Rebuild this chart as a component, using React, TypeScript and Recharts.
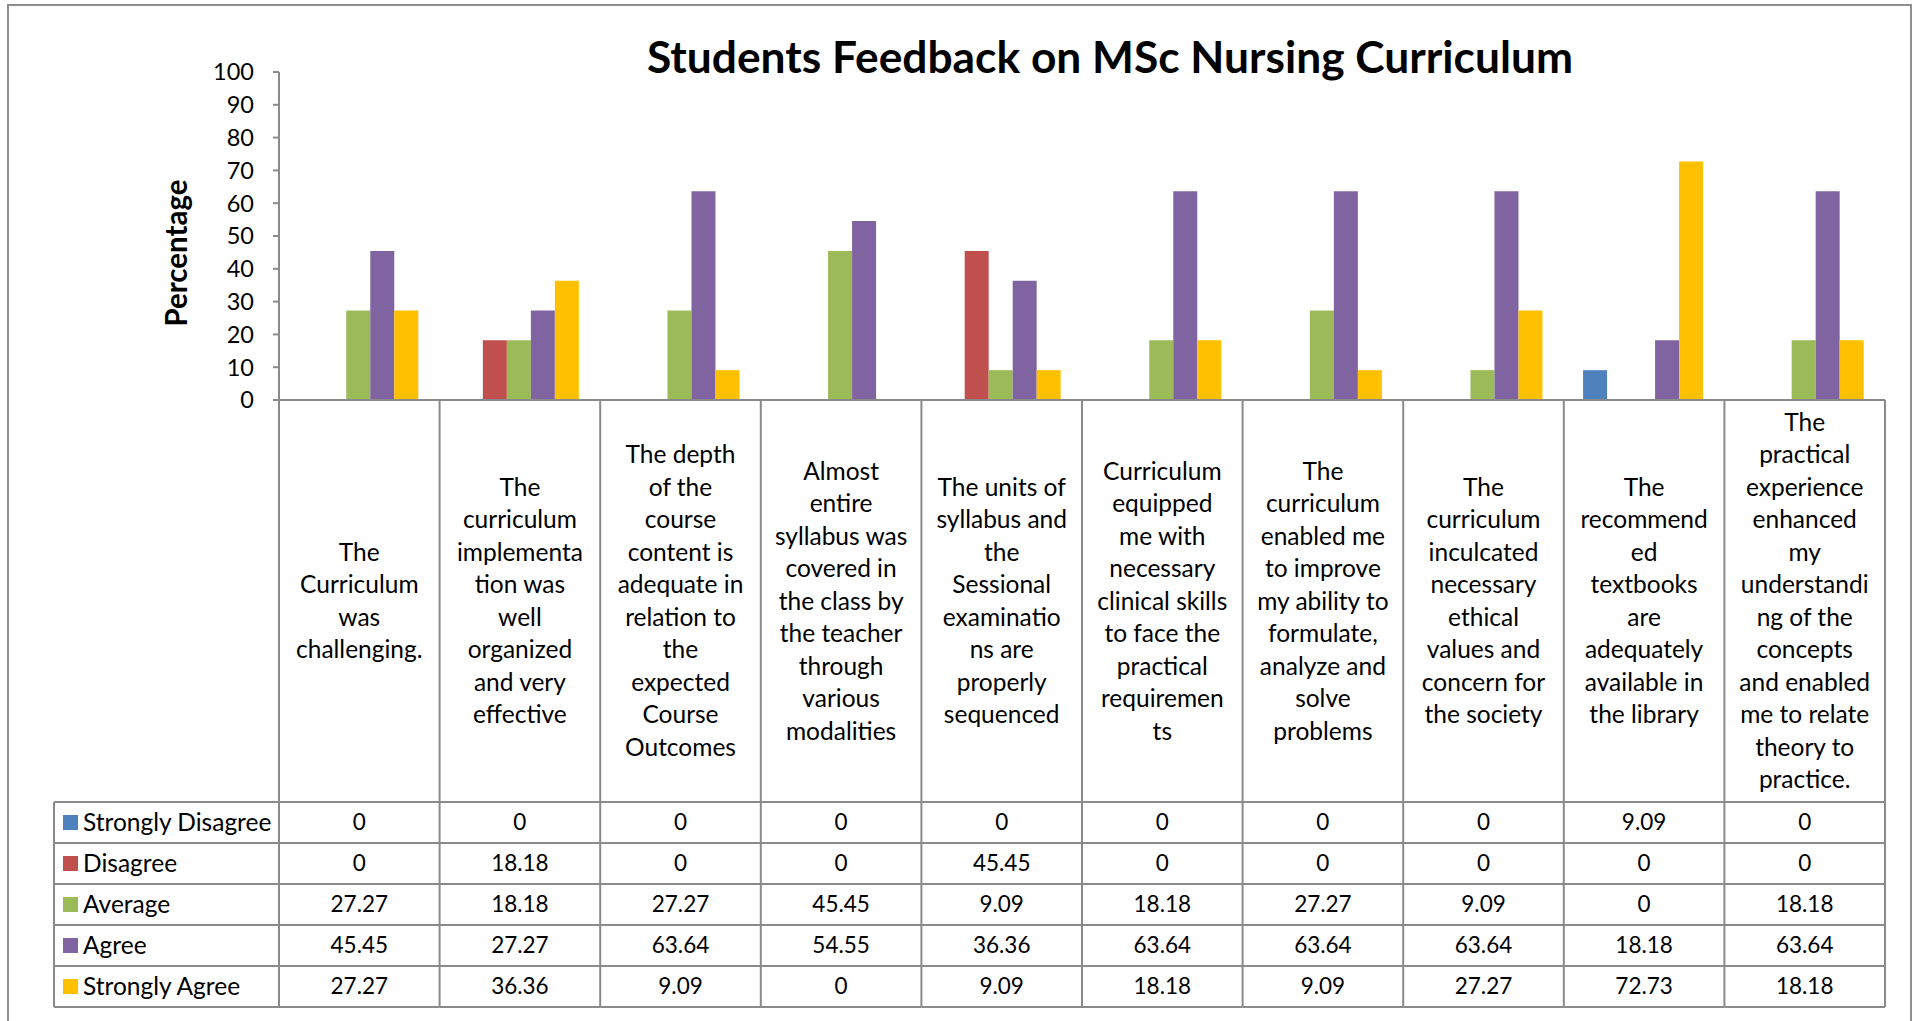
import { BarChart, Bar, XAxis, YAxis } from "recharts";

const categories = [
  "The\nCurriculum\nwas\nchallenging.",
  "The\ncurriculum\nimplementa\ntion was\nwell\norganized\nand very\neffective",
  "The depth\nof the\ncourse\ncontent is\nadequate in\nrelation to\nthe\nexpected\nCourse\nOutcomes",
  "Almost\nentire\nsyllabus was\ncovered in\nthe class by\nthe teacher\nthrough\nvarious\nmodalities",
  "The units of\nsyllabus and\nthe\nSessional\nexaminatio\nns are\nproperly\nsequenced",
  "Curriculum\nequipped\nme with\nnecessary\nclinical skills\nto face the\npractical\nrequiremen\nts",
  "The\ncurriculum\nenabled me\nto improve\nmy ability to\nformulate,\nanalyze and\nsolve\nproblems",
  "The\ncurriculum\ninculcated\nnecessary\nethical\nvalues and\nconcern for\nthe society",
  "The\nrecommend\ned\ntextbooks\nare\nadequately\navailable in\nthe library",
  "The\npractical\nexperience\nenhanced\nmy\nunderstandi\nng of the\nconcepts\nand enabled\nme to relate\ntheory to\npractice.",
];

const stronglyDisagree = [0, 0, 0, 0, 0, 0, 0, 0, 9.09, 0];
const disagree = [0, 18.18, 0, 0, 45.45, 0, 0, 0, 0, 0];
const average = [27.27, 18.18, 27.27, 45.45, 9.09, 18.18, 27.27, 9.09, 0, 18.18];
const agree = [45.45, 27.27, 63.64, 54.55, 36.36, 63.64, 63.64, 63.64, 18.18, 63.64];
const stronglyAgree = [27.27, 36.36, 9.09, 0, 9.09, 18.18, 9.09, 27.27, 72.73, 18.18];

const yTicks = [0, 10, 20, 30, 40, 50, 60, 70, 80, 90, 100];

const series = [
  { key: "sd", name: "Strongly Disagree", values: stronglyDisagree, color: "#4F81BD" },
  { key: "d", name: "Disagree", values: disagree, color: "#C0504D" },
  { key: "avg", name: "Average", values: average, color: "#9BBB59" },
  { key: "ag", name: "Agree", values: agree, color: "#8064A2" },
  { key: "sa", name: "Strongly Agree", values: stronglyAgree, color: "#FFC000" },
];

const data = categories.map((category, i) => {
  const row: Record<string, any> = { category };
  series.forEach((s) => (row[s.key] = s.values[i]));
  return row;
});

const FONT = "Lato, 'Open Sans', sans-serif";
const GRID = "#8a8a8a";
const PLOT_LEFT = 279;
const PLOT_RIGHT = 1885;
const COL_W = (PLOT_RIGHT - PLOT_LEFT) / categories.length;
const LABEL_H = 402;
const ROW_H = 41;
const LEGEND_LEFT = 54;
const TEXT_SIZE = 24.5;
const NUM_SIZE = 22.5;

function CategoryTick(props: any) {
  const { x, y, payload } = props;
  const index = payload.index ?? props.index ?? 0;
  const left = x - COL_W / 2;
  const lines = String(payload.value).split("\n");
  const lineH = 32.5;
  const centerY = y + 201;
  const top = y + LABEL_H;
  const bottom = top + ROW_H * series.length;
  const isLast = index === categories.length - 1;

  return (
    <g>
      <line x1={left} y1={y} x2={left} y2={bottom} stroke={GRID} strokeWidth={2} />
      {isLast && <line x1={left + COL_W} y1={y} x2={left + COL_W} y2={bottom} stroke={GRID} strokeWidth={2} />}
      <text x={x} textAnchor="middle" fontFamily={FONT} fontSize={TEXT_SIZE} fill="#000">
        {lines.map((ln, i) => (
          <tspan key={i} x={x} y={centerY + (i - (lines.length - 1) / 2) * lineH} dy="0.35em">
            {ln}
          </tspan>
        ))}
      </text>
      {series.map((s, r) => (
        <g key={s.key}>
          <line x1={index === 0 ? LEGEND_LEFT : left} y1={top + r * ROW_H} x2={left + COL_W} y2={top + r * ROW_H} stroke={GRID} strokeWidth={2} />
          <text x={x} y={top + r * ROW_H + ROW_H / 2} dy="0.35em" textAnchor="middle" fontFamily={FONT} fontSize={NUM_SIZE} fill="#000">
            {String(s.values[index])}
          </text>
          {index === 0 && (
            <g>
              <rect x={63} y={top + r * ROW_H + ROW_H / 2 - 7.5} width={15} height={15} fill={s.color} />
              <text x={83} y={top + r * ROW_H + ROW_H / 2} dy="0.35em" fontFamily={FONT} fontSize={TEXT_SIZE} fill="#000">
                {s.name}
              </text>
            </g>
          )}
        </g>
      ))}
      <line x1={index === 0 ? LEGEND_LEFT : left} y1={bottom} x2={left + COL_W} y2={bottom} stroke={GRID} strokeWidth={2} />
      {index === 0 && <line x1={LEGEND_LEFT} y1={top} x2={LEGEND_LEFT} y2={bottom} stroke={GRID} strokeWidth={2} />}
    </g>
  );
}

function PercentLabel(props: any) {
  const vb = props.viewBox || { x: 0, y: 72, height: 328 };
  const cx = 177;
  const cy = vb.y + vb.height / 2 + 17;
  return (
    <text x={cx} y={cy} transform={`rotate(-90 ${cx} ${cy})`} textAnchor="middle" dy="0.35em" fontFamily={FONT} fontWeight={700} fontSize={29.5} fill="#000">
      Percentage
    </text>
  );
}

export default function App() {
  return (
    <div style={{ position: "absolute", left: 0, top: 0, width: 1919, height: 1021, overflow: "hidden", background: "#fff" }}>
      <div style={{ position: "absolute", left: 7, top: 4, width: 1905, height: 1100, border: "2px solid #8e8e8e", boxSizing: "border-box" }} />
      <div style={{ position: "absolute", left: 0, top: 0 }}>
        <BarChart
          width={1919}
          height={1021}
          data={data}
          margin={{ top: 72, right: 1919 - PLOT_RIGHT, bottom: 0, left: 0 }}
          barCategoryGap="12%"
          barGap={0}
        >
          <XAxis
            dataKey="category"
            interval={0}
            height={621}
            tickLine={false}
            tickSize={0}
            tickMargin={0}
            axisLine={{ stroke: GRID, strokeWidth: 2 }}
            tick={<CategoryTick />}
          />
          <YAxis
            width={PLOT_LEFT}
            domain={[0, 100]}
            ticks={yTicks}
            interval={0}
            tickSize={6}
            tickMargin={19}
            axisLine={{ stroke: GRID, strokeWidth: 2 }}
            tickLine={{ stroke: GRID, strokeWidth: 2 }}
            tick={{ fill: "#000", fontSize: 23.5, fontFamily: FONT }}
            label={<PercentLabel />}
          />
          {series.map((s) => (
            <Bar key={s.key} dataKey={s.key} name={s.name} fill={s.color} isAnimationActive={false} />
          ))}
        </BarChart>
      </div>
      <svg style={{ position: "absolute", left: 0, top: 0, pointerEvents: "none" }} width={1919} height={120}>
        <text x={1110} y={73} textAnchor="middle" fontFamily={FONT} fontWeight={700} fontSize={44.3} fill="#000">
          Students Feedback on MSc Nursing Curriculum
        </text>
      </svg>
    </div>
  );
}
